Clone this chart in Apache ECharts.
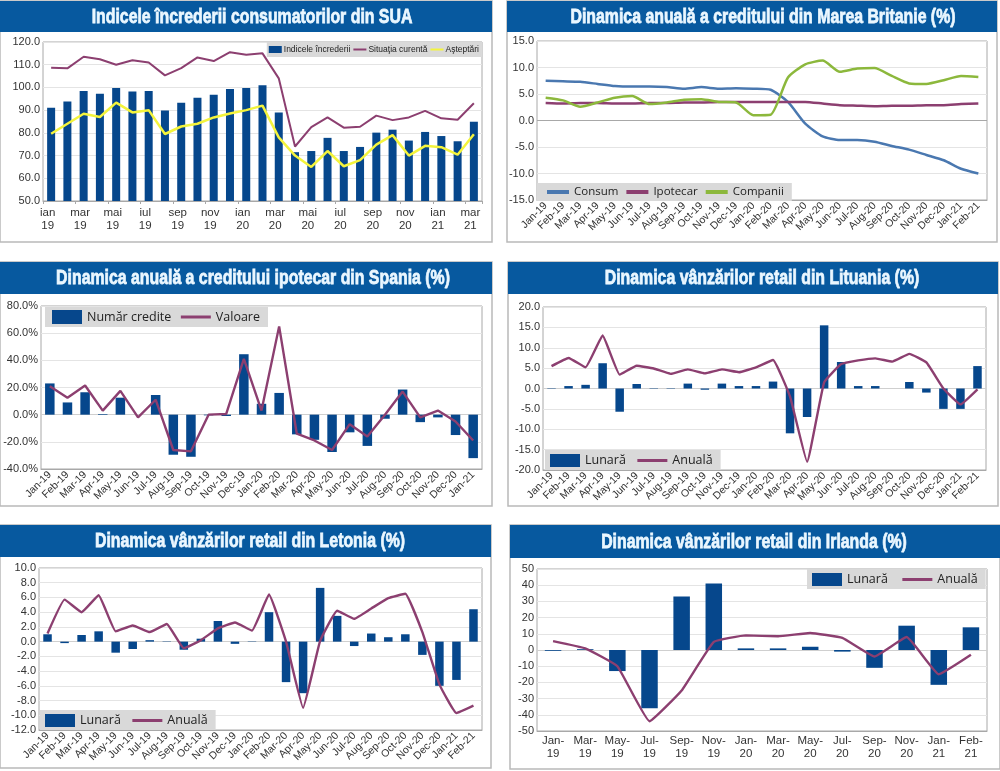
<!DOCTYPE html>
<html>
<head>
<meta charset="utf-8">
<title>Indicatori</title>
<script src="https://cdn.jsdelivr.net/npm/echarts@6/dist/echarts.min.js"></script>
<style>
    html, body { margin: 0; padding: 0; background: #fff; }
    #main { width: 1000px; height: 771px; }
</style>
</head>
<body>
<div id="main"></div>
<script>
/////// data

let monthsSua = ['ian\n19', 'feb\n19', 'mar\n19', 'apr\n19', 'mai\n19', 'iun\n19', 'iul\n19', 'aug\n19', 'sep\n19', 'oct\n19', 'nov\n19', 'dec\n19',
    'ian\n20', 'feb\n20', 'mar\n20', 'apr\n20', 'mai\n20', 'iun\n20', 'iul\n20', 'aug\n20', 'sep\n20', 'oct\n20', 'nov\n20', 'dec\n20',
    'ian\n21', 'feb\n21', 'mar\n21'];
let monthsFeb21 = ['Jan-19', 'Feb-19', 'Mar-19', 'Apr-19', 'May-19', 'Jun-19', 'Jul-19', 'Aug-19', 'Sep-19', 'Oct-19', 'Nov-19', 'Dec-19',
    'Jan-20', 'Feb-20', 'Mar-20', 'Apr-20', 'May-20', 'Jun-20', 'Jul-20', 'Aug-20', 'Sep-20', 'Oct-20', 'Nov-20', 'Dec-20',
    'Jan-21', 'Feb-21'];
let monthsJan21 = ['Jan-19', 'Feb-19', 'Mar-19', 'Apr-19', 'May-19', 'Jun-19', 'Jul-19', 'Aug-19', 'Sep-19', 'Oct-19', 'Nov-19', 'Dec-19',
    'Jan-20', 'Feb-20', 'Mar-20', 'Apr-20', 'May-20', 'Jun-20', 'Jul-20', 'Aug-20', 'Sep-20', 'Oct-20', 'Nov-20', 'Dec-20',
    'Jan-21'];
let monthsIrlanda = ['Jan-\n19', 'Mar-\n19', 'May-\n19', 'Jul-\n19', 'Sep-\n19', 'Nov-\n19', 'Jan-\n20', 'Mar-\n20', 'May-\n20', 'Jul-\n20', 'Sep-\n20', 'Nov-\n20', 'Jan-\n21', 'Feb-\n21'];

let suaIndice = [91, 93.8, 98.4, 97.2, 99.8, 98.2, 98.4, 89.8, 93.2, 95.5, 96.8, 99.3, 99.8, 101, 89, 71.5, 72, 77.8, 72, 73.8, 80.1, 81.4, 76.6, 80.4, 78.6, 76.3, 84.9];
let suaCurenta = [108.7, 108.4, 113.5, 112.4, 110, 112, 111, 105.3, 108.5, 113.2, 111.6, 115.5, 114.4, 115, 104, 74, 82.5, 86.8, 82.3, 82.7, 87.6, 85.6, 86.8, 89.7, 86.4, 85.8, 93];
let suaAsteptari = [79.6, 84, 88.4, 87, 93.3, 89, 90, 79.5, 82.8, 84, 86.8, 88.5, 90, 92, 78, 70, 65, 72, 65.3, 68, 74.8, 79, 70, 74.3, 73.7, 70.4, 79.4];

let ukConsum = [7.5, 7.4, 7.3, 6.9, 6.5, 6.4, 6.4, 6.3, 6.0, 6.3, 6.0, 6.1, 6.0, 5.8, 3.5, -0.6, -3, -3.7, -3.7, -4, -4.8, -5.5, -6.5, -7.5, -9.1, -10];
let ukIpotecar = [3.3, 3.2, 3.3, 3.3, 3.2, 3.2, 3.3, 3.3, 3.4, 3.4, 3.5, 3.5, 3.5, 3.5, 3.5, 3.5, 3.2, 2.9, 2.8, 2.7, 2.8, 2.8, 2.9, 2.9, 3.1, 3.2];
let ukCompanii = [4.3, 3.8, 2.6, 3.4, 4.3, 4.6, 3.1, 3.4, 3.9, 4, 3.5, 3.4, 1, 1.1, 8.1, 10.6, 11.3, 9.2, 9.8, 9.9, 8.4, 7, 6.9, 7.6, 8.4, 8.2];

let spaniaNumar = [23, 9, 16.5, 0.5, 12.5, 0, 14.5, -29.5, -31, -0.5, -1, 44.5, 8, 16, -14.5, -18.5, -27.5, -13, -23, -3, 18.5, -5.5, -2, -15, -32];
let spaniaValoare = [21, 12.5, 21.5, 3, 17.5, -2, 11, -26, -27, 0, 0.5, 41, 3, 65, -14, -19, -26, -7, -16, 0, 17, -2, 3, -5, -19];

let lituaniaLunara = [-0.1, 0.6, 0.9, 6.2, -5.7, 1.1, -0.1, -0.1, 1.2, -0.3, 1.2, 0.6, 0.6, 1.7, -11, -7, 15.5, 6.5, 0.6, 0.6, 0, 1.6, -1, -5, -5, 5.5];
let lituaniaAnuala = [5.5, 7.5, 5.2, 13, 3.4, 5.6, 4.9, 3.6, 4.7, 3.7, 4.7, 4, 5.2, 7, -2, -18, 1.5, 6, 6.9, 7.4, 6.6, 8.5, 6.4, 0, -3.9, -0.2];

let letoniaLunara = [1, -0.2, 0.9, 1.4, -1.5, -1, 0.2, 0.05, -1.1, 0.4, 2.8, -0.3, 0.05, 4, -5.5, -7, 7.3, 3.5, -0.6, 1.1, 0.6, 1, -1.8, -6, -5.2, 4.4];
let letoniaAnuala = [1.1, 5.7, 4, 6.3, 1.4, 2.2, 1.3, 2.4, -0.9, 0.2, 1.8, 2.6, 1.5, 6.4, 0, -9, 0.1, 4.2, 3.1, 4.5, 5.9, 6.5, 1.3, -5.8, -9.7, -8.7];

let irlandaLunara = [-0.5, 0.5, -13, -36, 33, 41, 1, 1, 2, -1, -11, 15, -21.5, 14];
let irlandaAnuala = [5.5, 1, -10, -44, -25, 5, 9, 8.5, 10.5, 7.5, -4, 8, -15, -3];


/////// colours and fonts

const NAVY = '#06478c';
const PURPLE = '#8c3f70';
const YELLOW = '#f4f43c';
const GREEN = '#8cb83c';
const BLUE = '#4a78b0';
const HEADER = '#07599f';
const SANS = '"Liberation Sans", sans-serif';
const OPEN = '"Open Sans", sans-serif';

let option = {
    backgroundColor: '#fff',
    animation: false,
    grid: [], xAxis: [], yAxis: [], series: [], legend: [], graphic: []
};

function barSeries(name, data, width) {
    return { name: name, type: 'bar', data: data, barWidth: width, itemStyle: { color: NAVY } };
}

function lineSeries(name, data, color, lineWidth, smooth) {
    return {
        name: name, type: 'line', data: data, smooth: smooth, symbol: 'none', z: 3,
        lineStyle: { color: color, width: lineWidth }, itemStyle: { color: color }
    };
}

function addPanel(p) {
    let idx = option.grid.length;

    // panel frame + blue header
    option.graphic.push({
        type: 'rect', z: -10,
        shape: { x: p.box[0], y: p.box[1], width: p.box[2] - p.box[0], height: p.box[3] - p.box[1] },
        style: { fill: '#fff', stroke: '#b9b9b9', lineWidth: 1.5 }
    });
    option.graphic.push({
        type: 'rect', z: -9,
        shape: { x: p.box[0], y: p.box[1], width: p.box[2] - p.box[0], height: p.headerH },
        style: { fill: HEADER }
    });
    option.graphic.push({
        type: 'text', z: 5, x: p.titleX, y: p.box[1] + p.headerH / 2 + 0.5, scaleX: 0.755,
        style: {
            text: p.title, fill: '#eaf7ff', align: 'center', verticalAlign: 'middle',
            font: 'bold 21px ' + SANS, stroke: '#eaf7ff', lineWidth: 0.8
        }
    });

    option.grid.push({
        left: p.plot[0], top: p.plot[1], width: p.plot[2] - p.plot[0], height: p.plot[3] - p.plot[1],
        show: true, borderColor: '#a8a8a8', borderWidth: 1, backgroundColor: 'transparent'
    });

    option.xAxis.push({
        type: 'category', gridIndex: idx, data: p.cats,
        axisLine: { onZero: false, lineStyle: { color: '#a8a8a8' } },
        axisTick: { show: p.ticks === true, length: 3, lineStyle: { color: '#a8a8a8' } },
        splitLine: { show: false },
        axisLabel: {
            interval: p.labelInterval, rotate: p.rotate, margin: p.labelMargin, padding: p.labelPadding || 0,
            color: '#333', fontFamily: SANS, fontSize: p.labelSize, lineHeight: 13.5
        }
    });

    option.yAxis.push({
        type: 'value', gridIndex: idx, min: p.min, max: p.max, interval: p.step,
        axisLine: { show: false }, axisTick: { show: false },
        splitLine: { lineStyle: { color: '#e4e4e4', width: 1 } },
        axisLabel: {
            margin: 3, color: '#333', fontFamily: SANS, fontSize: 11,
            formatter: p.yFormat
        }
    });

    p.series.forEach(function (s, i) {
        s.xAxisIndex = idx;
        s.yAxisIndex = idx;
        if (i === 0 && p.zeroColor) {
            s.markLine = {
                silent: true, symbol: 'none', label: { show: false }, z: 1,
                lineStyle: { color: p.zeroColor, width: 1, type: 'solid' },
                data: [{ yAxis: 0 }]
            };
        }
        option.series.push(s);
    });

    // legend keys: square for bars, plain stroke for lines (hide the circle of the line icon)
    option.legend.push(Object.assign({
        backgroundColor: '#d9d9d9', borderRadius: 0, orient: 'horizontal',
        selectedMode: false, z: 4,
        data: p.series.map(function (s) {
            if (s.type === 'bar') {
                return { name: s.name, icon: 'rect' };
            }
            return { name: s.name, itemStyle: { opacity: 0 }, lineStyle: { width: p.legendLine || 3 } };
        })
    }, p.legend));
}


/////// panels

addPanel({
    title: 'Indicele încrederii consumatorilor din SUA', titleX: 252,
    box: [0, 1, 492, 242], headerH: 31, plot: [43, 42, 482, 201],
    cats: monthsSua, labelInterval: 1, rotate: 0, labelMargin: 5, labelSize: 11.5, labelPadding: [0, 7, 0, 0], ticks: true,
    min: 50, max: 120, step: 10, yFormat: function (v) { return v.toFixed(1); },
    series: [
        barSeries('Indicele încrederii', suaIndice, 8),
        lineSeries('Situaţia curentă', suaCurenta, PURPLE, 2, false),
        lineSeries('Aşteptări', suaAsteptari, YELLOW, 2.5, false)
    ],
    legendLine: 2,
    legend: {
        right: 518, top: 42, itemWidth: 13, itemHeight: 7, itemGap: 2, padding: [3, 3, 3, 2],
        textStyle: { fontFamily: SANS, fontSize: 8.5, color: '#222', padding: [0, 0, 0, -3] }
    }
});

addPanel({
    title: 'Dinamica anuală a creditului din Marea Britanie (%)', titleX: 763,
    box: [507, 1, 997, 242], headerH: 31, plot: [537, 41, 987, 200],
    cats: monthsFeb21, labelInterval: 0, rotate: 45, labelMargin: 4, labelSize: 10.5, zeroColor: '#a8a8a8',
    min: -15, max: 15, step: 5, yFormat: function (v) { return v.toFixed(1); },
    series: [
        lineSeries('Consum', ukConsum, BLUE, 2.5, 0.2),
        lineSeries('Ipotecar', ukIpotecar, PURPLE, 2.5, 0.2),
        lineSeries('Companii', ukCompanii, GREEN, 2.5, 0.2)
    ],
    legendLine: 4,
    legend: {
        left: 537, top: 183, itemWidth: 22, itemHeight: 6, itemGap: 6, padding: [3, 8, 3, 8],
        textStyle: { fontFamily: OPEN, fontSize: 11.5, color: '#222' }
    }
});

addPanel({
    title: 'Dinamica anuală a creditului ipotecar din Spania (%)', titleX: 253,
    box: [0, 262, 492, 506], headerH: 32, plot: [41, 306, 482, 469],
    cats: monthsJan21, labelInterval: 0, rotate: 45, labelMargin: 4, labelSize: 10.5, zeroColor: '#cfcfcf',
    min: -40, max: 80, step: 20, yFormat: function (v) { return v.toFixed(1) + '%'; },
    series: [
        barSeries('Număr credite', spaniaNumar, 9.5),
        lineSeries('Valoare', spaniaValoare, PURPLE, 2.4, false)
    ],
    legend: {
        left: 45, top: 307, itemWidth: 30, itemHeight: 14, itemGap: 8, padding: [3, 8, 3, 7],
        textStyle: { fontFamily: OPEN, fontSize: 12.5, color: '#222' }
    }
});

addPanel({
    title: 'Dinamica vânzărilor retail din Lituania (%)', titleX: 762,
    box: [508, 262, 998, 506], headerH: 32, plot: [543, 307, 986, 470],
    cats: monthsFeb21, labelInterval: 0, rotate: 45, labelMargin: 4, labelSize: 10.5, zeroColor: '#cfcfcf',
    min: -20, max: 20, step: 5, yFormat: function (v) { return v.toFixed(1); },
    series: [
        barSeries('Lunară', lituaniaLunara, 8.5),
        lineSeries('Anuală', lituaniaAnuala, PURPLE, 2.4, 0.1)
    ],
    legend: {
        left: 545, top: 450, itemWidth: 30, itemHeight: 13, itemGap: 10, padding: [4, 8, 3, 5],
        textStyle: { fontFamily: OPEN, fontSize: 12.5, color: '#222' }
    }
});

addPanel({
    title: 'Dinamica vânzărilor retail din Letonia (%)', titleX: 250,
    box: [0, 525, 491, 768], headerH: 32, plot: [39, 568, 482, 730],
    cats: monthsFeb21, labelInterval: 0, rotate: 45, labelMargin: 4, labelSize: 10.5, zeroColor: '#cfcfcf',
    min: -12, max: 10, step: 2, yFormat: function (v) { return v.toFixed(1); },
    series: [
        barSeries('Lunară', letoniaLunara, 8.5),
        lineSeries('Anuală', letoniaAnuala, PURPLE, 2.4, 0.1)
    ],
    legend: {
        left: 40, top: 710, itemWidth: 30, itemHeight: 13, itemGap: 10, padding: [4, 8, 3, 5],
        textStyle: { fontFamily: OPEN, fontSize: 12.5, color: '#222' }
    }
});

addPanel({
    title: 'Dinamica vânzărilor retail din Irlanda (%)', titleX: 754,
    box: [510, 525, 1000, 769], headerH: 33, plot: [537, 569, 987, 731],
    cats: monthsIrlanda, labelInterval: 0, rotate: 0, labelMargin: 3, labelSize: 11.5, zeroColor: '#cfcfcf',
    min: -50, max: 50, step: 10, yFormat: function (v) { return String(v); },
    series: [
        barSeries('Lunară', irlandaLunara, 16.5),
        lineSeries('Anuală', irlandaAnuala, PURPLE, 2.4, 0.1)
    ],
    legend: {
        left: 807, top: 569, itemWidth: 30, itemHeight: 13, itemGap: 13, padding: [4, 8, 3, 5],
        textStyle: { fontFamily: OPEN, fontSize: 12.5, color: '#222' }
    }
});

var myChart = echarts.init(document.getElementById('main'));
myChart.setOption(option);
</script>
</body>
</html>
